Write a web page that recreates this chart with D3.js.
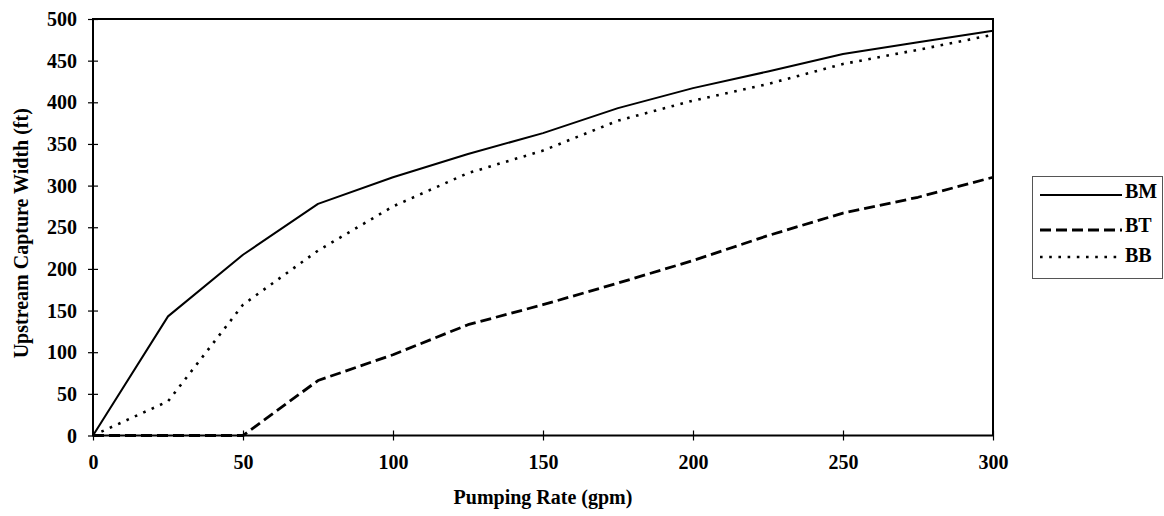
<!DOCTYPE html>
<html>
<head>
<meta charset="utf-8">
<script src="https://cdn.jsdelivr.net/npm/d3@7"></script>
<style>
  body { margin: 0; background: #fff; }
  text { font-family: "Liberation Serif", "Times New Roman", serif; font-weight: bold; fill: #000; }
</style>
</head>
<body>
<svg id="chart" width="1164" height="516"></svg>
<script>
const pumpingRate = [0, 25, 50, 75, 100, 125, 150, 175, 200, 225, 250, 275, 300];
const bmValues = [0, 143, 217, 278, 310, 338, 363, 393, 417, 437, 458, 472, 486];
const btValues = [0, 0, 0, 66, 97, 133, 157, 183, 210, 240, 267, 286, 310];
const bbValues = [0, 41, 157, 222, 275, 315, 342, 378, 402, 422, 446, 463, 481];
const xTicks = [0, 50, 100, 150, 200, 250, 300];
const yTicks = [0, 50, 100, 150, 200, 250, 300, 350, 400, 450, 500];
const seriesNames = ["BM", "BT", "BB"];

const svg = d3.select("#chart");
const plot = { left: 93, top: 19, width: 900, height: 416.5 };
const x = d3.scaleLinear().domain([0, 300]).range([plot.left, plot.left + plot.width]);
const y = d3.scaleLinear().domain([0, 500]).range([plot.top + plot.height, plot.top]);

const styles = {
  BM: { width: 2, dash: null },
  BT: { width: 2.8, dash: "11,5" },
  BB: { width: 2.6, dash: "2.6,6.6" }
};
const series = [
  { name: "BM", values: bmValues },
  { name: "BT", values: btValues },
  { name: "BB", values: bbValues }
];

// plot frame
svg.append("rect")
  .attr("x", plot.left).attr("y", plot.top)
  .attr("width", plot.width).attr("height", plot.height)
  .attr("fill", "none").attr("stroke", "#000").attr("stroke-width", 2);

// lines
const line = d3.line().x((d, i) => x(pumpingRate[i])).y(d => y(d));
series.forEach(s => {
  svg.append("path")
    .datum(s.values)
    .attr("d", line)
    .attr("fill", "none")
    .attr("stroke", "#000")
    .attr("stroke-width", styles[s.name].width)
    .attr("stroke-dasharray", styles[s.name].dash)
    .attr("stroke-linejoin", "round");
});

// axes
const xAxis = d3.axisBottom(x).tickValues(xTicks).tickSize(0).tickPadding(0);
const gx = svg.append("g").attr("transform", `translate(0,${plot.top + plot.height})`).call(xAxis);
gx.select(".domain").remove();
gx.selectAll(".tick line").attr("y1", -5).attr("y2", 5).attr("stroke", "#000").attr("stroke-width", 1.2);
gx.selectAll(".tick text").attr("y", 33).attr("dy", 0)
  .style("font-family", "Liberation Serif").style("font-weight", "bold").style("font-size", "20px");

const yAxis = d3.axisLeft(y).tickValues(yTicks).tickSize(0).tickPadding(0);
const gy = svg.append("g").attr("transform", `translate(${plot.left},0)`).call(yAxis);
gy.select(".domain").remove();
gy.selectAll(".tick line").attr("x1", -5).attr("x2", 5).attr("stroke", "#000").attr("stroke-width", 1.2);
gy.selectAll(".tick text").attr("x", -16).attr("dy", "0.33em")
  .style("font-family", "Liberation Serif").style("font-weight", "bold").style("font-size", "20px");

// axis titles
svg.append("text")
  .attr("x", plot.left + plot.width / 2).attr("y", 504)
  .attr("text-anchor", "middle").style("font-size", "20px")
  .text("Pumping Rate (gpm)");
svg.append("text")
  .attr("transform", `translate(28,${plot.top + plot.height / 2 + 6}) rotate(-90)`)
  .attr("text-anchor", "middle").style("font-size", "20px")
  .text("Upstream Capture Width (ft)");

// legend
const lg = svg.append("g");
lg.append("rect").attr("x", 1032.5).attr("y", 176.5).attr("width", 130).attr("height", 102)
  .attr("fill", "none").attr("stroke", "#555").attr("stroke-width", 1);
const legendLineY = [195, 230, 257];
const legendTextY = [198, 232, 262];
seriesNames.forEach((n, i) => {
  lg.append("line").attr("x1", 1040).attr("x2", 1122).attr("y1", legendLineY[i]).attr("y2", legendLineY[i])
    .attr("stroke", "#000").attr("stroke-width", styles[n].width).attr("stroke-dasharray", styles[n].dash);
  lg.append("text").attr("x", 1125).attr("y", legendTextY[i]).style("font-size", "20px").text(n);
});
</script>
</body>
</html>
